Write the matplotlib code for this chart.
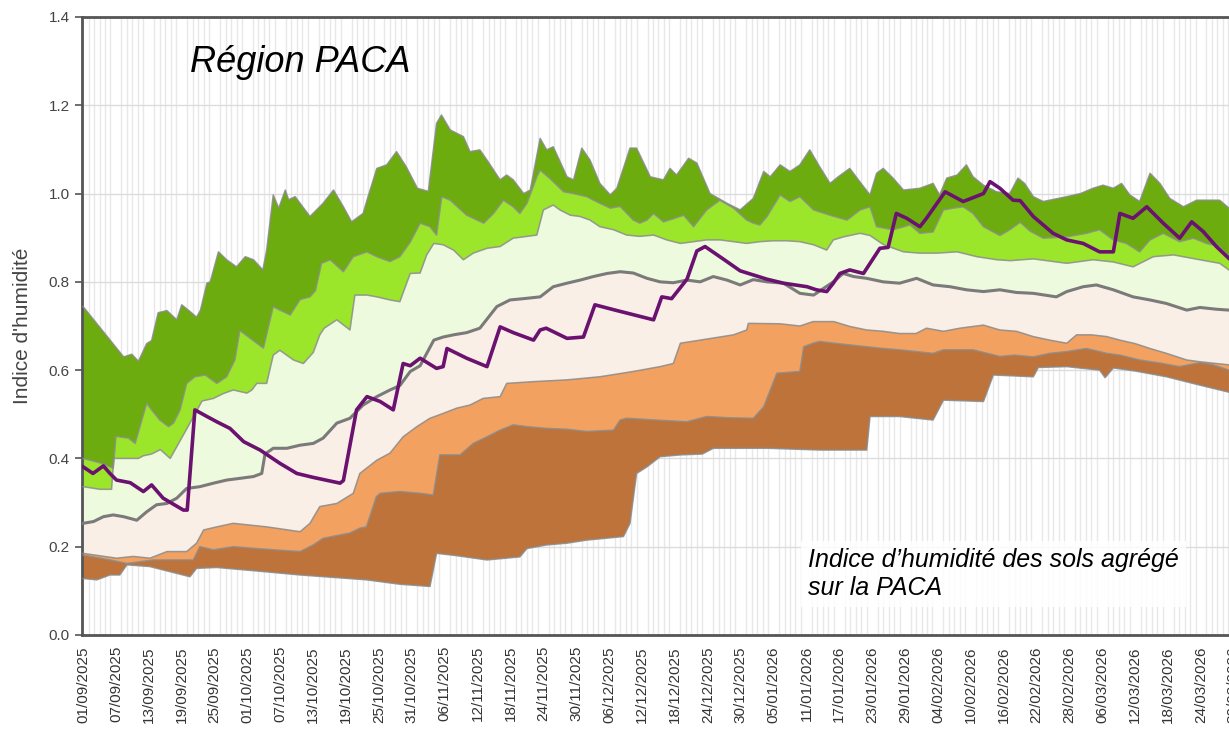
import matplotlib
matplotlib.use("Agg")
import matplotlib.pyplot as plt
import numpy as np

plt.rcParams['font.family'] = ['Liberation Sans', 'DejaVu Sans']

# x = days since 01/09/2025, y = soil humidity index
curve_max = [(0, .744), (7.4, .63), (8.9, .636), (10.1, .62), (11.6, .66), (12.5, .667), (13.7, .73),
             (15.3, .735), (17.1, .714), (18.0, .748), (19.5, .733), (20.7, .72), (21.4, .735), (22.6, .797),
             (23.2, .80), (24.7, .868), (26.2, .85), (28.0, .834), (29.6, .857), (31.1, .85), (32.8, .827),
             (33.5, .872), (34.7, .997), (35.7, .967), (36.9, 1.008), (37.5, .986), (38.7, .993), (41.4, .948),
             (43.8, .978), (45.7, 1.008), (47.5, .97), (49.0, .936), (51.1, .955), (52.0, .993), (53.6, 1.057),
             (55.4, 1.065), (57.2, 1.095), (59.0, 1.06), (61.0, 1.012), (63.0, 1.005), (64.5, 1.159),
             (65.4, 1.178), (67.0, 1.144), (69.4, 1.129), (70.6, 1.095), (72.4, 1.099), (73.7, 1.076),
             (76.1, 1.031), (77.3, 1.042), (78.5, 1.031), (80.4, 1.0), (81.6, 1.008), (83.4, 1.125),
             (84.6, 1.099), (85.8, 1.106), (88.3, 1.038), (89.5, 1.031), (91.0, 1.103), (92.5, 1.076),
             (94.3, 1.023), (96.2, .997), (97.4, 1.012), (99.8, 1.103), (101.0, 1.103), (103.5, 1.038),
             (105.9, 1.031), (107.1, 1.057), (108.3, 1.042), (110.5, 1.08), (112.0, 1.069), (114.4, 1.0),
             (117.5, .978), (119.9, .963), (122.3, .989), (124.2, 1.05), (125.4, 1.038), (127.2, 1.065),
             (129.0, 1.05), (130.8, 1.065), (132.6, 1.099), (134.4, 1.061), (136.3, 1.023), (137.8, 1.038),
             (139.9, 1.057), (142.4, 1.016), (143.6, .997), (144.8, 1.046), (146.0, 1.057), (147.8, 1.035),
             (149.7, 1.008), (152.7, 1.012), (155.1, 1.023), (156.3, .997), (157.6, 1.035), (159.5, 1.042),
             (161.2, 1.065), (162.4, 1.038), (164.3, 1.019), (166.7, 1.004), (169.1, 1.0), (170.6, 1.035),
             (171.8, 1.023), (173.4, .993), (175.2, .982), (179.5, .993), (182.0, 1.0), (184.3, 1.012),
             (186.1, 1.019), (188.0, 1.012), (189.5, 1.023), (191.0, .997), (192.8, .982), (194.7, 1.046),
             (196.5, 1.023), (198.3, .989), (200.8, .970), (203.2, .985), (207.4, .985), (209.1, .967)]

curve_q90 = [(0, .40), (3.1, .39), (5.5, .378), (6.0, .45), (8.3, .446), (9.5, .434), (11.6, .525),
             (12.5, .51), (14.0, .487), (15.6, .472), (16.5, .48), (17.7, .51), (18.9, .57), (20.4, .585),
             (22.3, .589), (24.4, .57), (26.2, .585), (27.7, .623), (28.6, .69), (30.5, .672), (32.9, .65),
             (34.7, .744), (35.9, .736), (37.8, .725), (39.6, .76), (41.4, .766), (42.4, .78), (43.5, .842),
             (45.1, .85), (47.5, .823), (49.3, .857), (51.8, .868), (53.6, .857), (56.0, .846), (57.8, .857),
             (59.7, .89), (61.5, .933), (63.3, .925), (64.5, .906), (65.45, .993), (67.0, .985), (70.0, .951),
             (73.1, .933), (74.9, .955), (76.7, .985), (78.5, .97), (79.7, .955), (81.0, .978), (82.8, 1.038),
             (83.4, 1.053), (85.2, 1.034), (87.7, 1.004), (89.5, 1.0), (91.9, .993), (94.3, .978), (96.2, .967),
             (98.0, .971), (100.4, .940), (101.6, .933), (102.9, .940), (104.1, .955), (105.9, .936),
             (107.7, .943), (109.6, .951), (111.4, .925), (113.8, .963), (116.2, .985), (118.7, .967),
             (121.1, .940), (122.3, .933), (123.5, .929), (124.8, .948), (127.2, .997), (129.0, .982),
             (130.8, .993), (133.3, .963), (136.3, .951), (139.4, .94), (141.8, .963), (143.6, .970),
             (144.8, .925), (147.8, .918), (150.9, .929), (152.7, .91), (155.1, .913), (157.0, .963),
             (158.8, .967), (160.6, .970), (162.4, .955), (164.3, .925), (167.3, .905), (169.1, .918),
             (171.0, .935), (172.8, .915), (175.2, .899), (179.5, .902), (183.1, .91), (185.5, .918),
             (188.0, .895), (190.4, .887), (192.8, .868), (194.7, .895), (197.1, .91), (200.1, .891),
             (202.6, .899), (205.0, .887), (207.4, .880), (209.1, .857)]

curve_q75 = [(0, .336), (3.1, .33), (5.2, .33), (5.6, .40), (7.4, .40), (10.1, .40), (11.0, .406),
             (12.5, .41), (14.1, .42), (15.9, .40), (17.7, .44), (19.5, .48), (21.7, .53), (23.8, .536),
             (25.6, .547), (27.4, .555), (29.9, .548), (30.8, .555), (31.7, .57), (33.5, .57), (34.7, .634),
             (35.9, .645), (38.4, .623), (40.2, .615), (42.0, .64), (43.2, .68), (44.0, .695), (46.3, .714),
             (48.7, .691), (49.6, .77), (51.8, .77), (53.6, .766), (56.0, .759), (57.8, .755), (59.7, .819),
             (61.5, .82), (62.7, .861), (64.0, .887), (65.7, .884), (67.6, .872), (69.4, .85), (71.2, .865),
             (73.7, .876), (76.1, .88), (78.5, .899), (80.4, .902), (82.8, .906), (84.0, .963), (85.8, .974),
             (87.0, .963), (88.9, .951), (90.7, .948), (92.5, .940), (94.3, .925), (96.8, .918), (99.2, .906),
             (101.6, .903), (104.1, .906), (106.5, .895), (109.0, .887), (111.4, .891), (113.8, .895),
             (116.2, .895), (118.7, .891), (121.1, .887), (123.5, .891), (125.9, .893), (128.4, .893),
             (130.8, .891), (133.3, .884), (135.7, .872), (136.9, .895), (138.8, .902), (141.8, .91),
             (143.6, .905), (146.1, .884), (149.7, .868), (152.7, .865), (155.8, .865), (159.5, .868),
             (163.1, .857), (166.8, .85), (169.2, .848), (173.4, .852), (179.5, .842), (184.3, .85),
             (188.0, .845), (191.6, .834), (195.3, .857), (199.0, .861), (203.8, .85), (207.4, .842),
             (209.1, .827)]

curve_q50 = [(0, .253), (1.9, .257), (3.7, .268), (5.5, .272), (7.4, .268), (9.8, .26), (11.6, .279),
             (13.4, .295), (15.3, .298), (17.1, .31), (18.9, .332), (21.3, .336), (23.8, .344), (26.2, .351),
             (28.7, .355), (31.1, .359), (32.6, .366), (33.2, .41), (34.7, .423), (37.2, .423), (39.6, .43),
             (42.0, .434), (43.8, .446), (46.3, .48), (48.7, .491), (51.1, .521), (53.6, .54), (56.0, .555),
             (57.8, .565), (59.7, .597), (61.5, .61), (64.0, .668), (65.7, .675), (67.6, .68), (70.0, .685),
             (72.4, .695), (75.5, .744), (77.9, .759), (80.4, .762), (83.4, .766), (85.8, .789), (88.3, .797),
             (90.7, .804), (93.1, .812), (95.6, .819), (98.0, .823), (100.4, .82), (102.9, .808), (105.3, .80),
             (107.7, .798), (110.2, .804), (112.6, .80), (115.0, .812), (117.5, .804), (119.9, .793),
             (122.3, .805), (124.8, .80), (127.8, .797), (130.8, .774), (133.3, .77), (134.5, .78),
             (136.9, .80), (138.7, .819), (140.6, .812), (143.0, .808), (146.0, .80), (149.0, .797),
             (152.1, .808), (155.1, .793), (158.2, .789), (161.2, .782), (164.3, .778), (167.3, .782),
             (170.3, .776), (173.4, .774), (177.6, .766), (179.5, .778), (182.5, .789), (184.9, .793),
             (188.0, .782), (191.6, .766), (194.7, .759), (197.7, .751), (201.4, .736), (203.8, .742),
             (206.8, .738), (209.1, .736)]

curve_q25 = [(0, .185), (6.1, .174), (9.2, .178), (12.2, .174), (15.3, .189), (18.9, .189), (20.7, .208),
             (22.0, .238), (24.4, .245), (27.4, .253), (33.5, .245), (39.6, .234), (41.4, .253), (43.2, .291),
             (46.3, .298), (49.3, .321), (50.5, .366), (53.6, .396), (56.0, .412), (58.4, .449), (60.9, .472),
             (63.3, .491), (65.7, .502), (68.2, .514), (70.6, .521), (73.0, .536), (76.1, .540), (77.3, .570),
             (82.2, .574), (88.3, .578), (94.3, .585), (100.4, .597), (105.3, .608), (107.7, .615),
             (109.0, .661), (112.6, .668), (118.7, .68), (121.1, .691), (121.4, .706), (127.2, .705),
             (130.8, .70), (133.2, .71), (137.0, .71), (139.9, .699), (143.0, .691), (146.0, .688),
             (149.0, .683), (152.0, .683), (153.9, .695), (157.0, .688), (160.0, .695), (162.4, .699),
             (164.3, .702), (167.3, .691), (170.3, .688), (173.4, .676), (176.4, .668), (179.5, .661),
             (181.3, .68), (184.0, .68), (186.8, .676), (189.2, .668), (192.0, .66), (194.7, .649),
             (197.7, .638), (201.4, .623), (203.8, .619), (206.8, .615), (209.1, .612)]

curve_q10 = [(0, .181), (4.9, .17), (8.0, .162), (12.8, .17), (20.1, .17), (21.3, .20), (23.8, .193),
             (27.4, .20), (30.5, .197), (34.7, .193), (39.6, .189), (42.0, .204), (43.8, .219), (48.7, .231),
             (50.5, .242), (51.7, .245), (53.5, .313), (54.2, .321), (57.8, .325), (61.5, .321), (63.9, .317),
             (65.1, .408), (68.8, .408), (71.2, .434), (73.7, .449), (76.1, .464), (78.5, .476), (81.0, .472),
             (84.6, .468), (88.3, .466), (91.9, .461), (96.8, .464), (98.0, .487), (99.2, .491), (104.4, .487),
             (110.2, .483), (113.8, .495), (118.0, .492), (122.3, .491), (124.2, .517), (126.6, .593),
             (130.8, .597), (131.5, .653), (133.2, .661), (134.4, .665), (137.0, .661), (143.0, .653),
             (146.0, .649), (149.0, .646), (155.1, .638), (157.0, .646), (162.4, .646), (167.3, .631),
             (170.0, .634), (173.4, .630), (176.4, .638), (179.5, .642), (183.1, .649), (186.8, .638),
             (189.2, .634), (192.8, .623), (196.5, .616), (200.1, .608), (203.8, .617), (206.2, .612),
             (209.1, .60)]

curve_min = [(0, .128), (2.5, .125), (4.9, .136), (6.7, .136), (8.0, .159), (12.2, .155), (19.5, .132),
             (20.7, .151), (24.4, .153), (33.5, .143), (39.6, .136), (51.7, .125), (57.8, .115), (63.3, .11),
             (64.5, .185), (68.0, .18), (73.7, .17), (79.7, .177), (81.0, .196), (84.6, .204), (88.3, .208),
             (91.9, .215), (98.6, .223), (99.8, .253), (101.0, .366), (102.9, .381), (105.3, .404),
             (109.0, .408), (113.0, .41), (115.0, .423), (125.0, .423), (134.5, .419), (143.0, .419),
             (143.6, .495), (149.0, .495), (155.1, .487), (157.0, .532), (164.3, .529), (166.1, .589),
             (173.4, .585), (174.3, .606), (179.5, .608), (185.5, .60), (186.5, .583), (188.0, .605),
             (192.0, .598), (197.7, .585), (203.8, .566), (209.1, .55)]

# current season
curve_2025 = [(0, .381), (1.8, .366), (3.7, .383), (4.9, .366), (6.1, .351), (8.6, .345), (11.0, .325),
              (12.5, .34), (14.6, .31), (18.3, .283), (19.0, .283), (20.4, .51), (22.6, .495), (24.4, .483),
              (26.8, .468), (29.3, .438), (32.3, .419), (35.9, .389), (39.0, .366), (42.0, .357), (46.9, .344),
              (47.5, .35), (49.9, .51), (51.8, .54), (54.2, .529), (56.6, .51), (58.4, .615), (59.7, .61),
              (61.5, .627), (64.5, .604), (65.7, .608), (66.4, .649), (70.0, .627), (73.7, .608), (76.1, .698),
              (78.5, .685), (82.2, .668), (83.4, .691), (84.5, .695), (88.3, .672), (91.3, .675), (93.4, .748),
              (97.4, .735), (104.1, .714), (105.6, .766), (107.4, .762), (110.2, .806), (112.0, .87),
              (113.5, .88), (116.9, .851), (119.9, .825), (124.8, .806), (127.8, .797), (132.1, .789),
              (133.8, .782), (135.7, .778), (136.9, .797), (138.1, .819), (139.9, .827), (142.4, .819),
              (145.4, .876), (146.9, .878), (148.4, .955), (150.3, .944), (152.7, .925), (153.9, .944),
              (157.3, 1.004), (160.6, .982), (164.3, 1.0), (165.5, 1.027), (167.3, 1.012), (169.7, .985),
              (171.0, .984), (173.4, .948), (177.0, .91), (179.5, .895), (182.5, .887), (185.5, .868),
              (188.0, .868), (189.2, .955), (191.6, .944), (194.1, .970), (197.1, .933), (200.1, .899),
              (202.3, .936), (204.4, .914), (206.8, .880), (209.1, .853)]

tick_days = list(range(0, 211, 6))
tick_labels = ['01/09/2025', '07/09/2025', '13/09/2025', '19/09/2025', '25/09/2025', '01/10/2025',
               '07/10/2025', '13/10/2025', '19/10/2025', '25/10/2025', '31/10/2025', '06/11/2025',
               '12/11/2025', '18/11/2025', '24/11/2025', '30/11/2025', '06/12/2025', '12/12/2025',
               '18/12/2025', '24/12/2025', '30/12/2025', '05/01/2026', '11/01/2026', '17/01/2026',
               '23/01/2026', '29/01/2026', '04/02/2026', '10/02/2026', '16/02/2026', '22/02/2026',
               '28/02/2026', '06/03/2026', '12/03/2026', '18/03/2026', '24/03/2026', '30/03/2026']

band_colors = ['#6cac0f', '#9be52a', '#eefadd', '#f9efe6', '#f2a160', '#be733a']

W, H = 1229, 738
fig = plt.figure(figsize=(W / 100, H / 100), dpi=100)
# the chart goes on past the right edge of the picture
ax = fig.add_axes([82 / W, 103 / H, (1300 - 82) / W, 618 / H])
ax.set_xlim(-0.2, -0.2 + (1300 - 82) / 5.48)
ax.set_ylim(0, 1.4)

curves = [np.array(c) for c in (curve_max, curve_q90, curve_q75, curve_q50, curve_q25, curve_q10, curve_min)]
for upper, lower, col in zip(curves[:-1], curves[1:], band_colors):
    xs = np.concatenate([upper[:, 0], lower[::-1, 0]])
    ys = np.concatenate([upper[:, 1], lower[::-1, 1]])
    ax.fill(xs, ys, color=col, lw=0, zorder=2)

for i, c in enumerate(curves):
    if i == 3:
        ax.plot(c[:, 0], c[:, 1], color='#7a7a7a', lw=2.2, zorder=3)
    else:
        ax.plot(c[:, 0], c[:, 1], color='#8a8a8a', lw=1.1, alpha=0.85, zorder=3)

cur = np.array(curve_2025)
ax.plot(cur[:, 0], cur[:, 1], color='#6b1170', lw=2.6, zorder=4, solid_joinstyle='round')

# grid: one vertical line per day, horizontal every 0.2
ax.set_xticks(np.arange(0, 223), minor=True)
ax.grid(which='minor', axis='x', color='#e8e8e8', lw=1.0)
ax.grid(which='major', axis='y', color='#dcdcdc', lw=1.0)
ax.set_axisbelow(True)

ax.set_xticks(tick_days)
ax.set_xticklabels(tick_labels, rotation=90, fontsize=11, color='#333333')
ax.tick_params(axis='x', which='both', length=0, pad=8)
ax.set_yticks(np.arange(0, 1.41, 0.2))
ax.set_yticklabels(['%.1f' % v for v in np.arange(0, 1.41, 0.2)], fontsize=11, color='#444444')
ax.tick_params(axis='y', length=5, width=1.2, color='#555555', pad=4)

for side in ['left', 'top', 'bottom']:
    ax.spines[side].set_color('#555555')
    ax.spines[side].set_linewidth(2)
ax.spines['right'].set_visible(False)

ax.set_ylabel("Indice d'humidité", fontsize=15, color='#444444')
ax.yaxis.set_label_coords((32 - 82) / 1218, 0.5)

fig.text(190 / W, 1 - 62 / H, 'Région PACA', style='italic', fontsize=26, va='center', ha='left')
fig.text(808 / W, 1 - 574 / H, 'Indice d’humidité des sols agrégé\nsur la PACA', style='italic',
         fontsize=18, va='center', ha='left', linespacing=1.2,
         bbox=dict(facecolor='white', edgecolor='none', pad=5, alpha=0.85), zorder=6)

fig.savefig('out.png', dpi=100)
